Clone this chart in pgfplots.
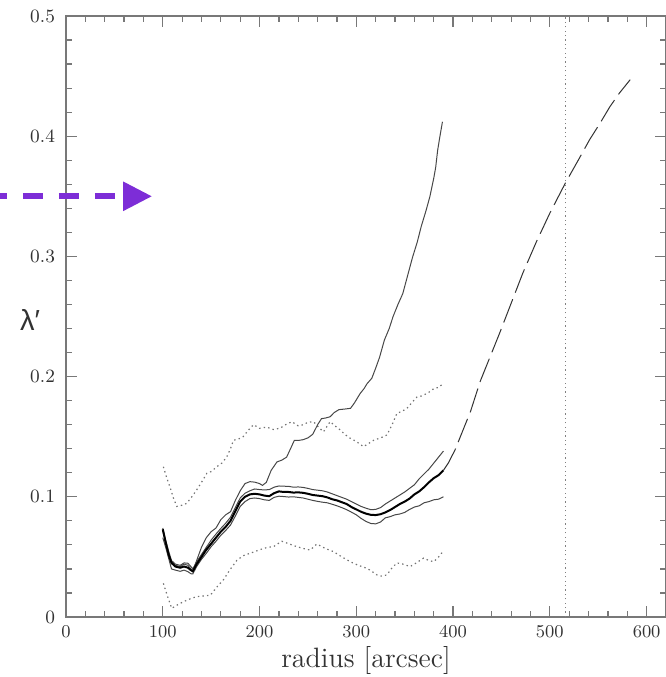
\documentclass[border=0pt]{standalone}
\usepackage{fontspec}
\usepackage{pgfplots}
\pgfplotsset{compat=1.18}
\usepackage{pgfplotstable}
\usetikzlibrary{arrows.meta}
\newfontfamily\lamfont{Liberation Sans}
\definecolor{arrowpurple}{RGB}{125,45,215}
\definecolor{axisgray}{RGB}{120,120,120}
\definecolor{labelgray}{RGB}{50,50,50}

\pgfplotstableread{
x y
100 0.073
103 0.062
106 0.052
109 0.045
113 0.042
118 0.041
122 0.042
126 0.041
129 0.039
131 0.038
135 0.044
140 0.050
145 0.056
150 0.061
155 0.066
160 0.071
165 0.075
170 0.080
175 0.088
180 0.096
185 0.100
190 0.102
195 0.1025
200 0.102
205 0.101
210 0.1005
215 0.103
220 0.1045
225 0.104
230 0.104
235 0.1035
240 0.1037
245 0.1033
250 0.1025
255 0.1015
260 0.101
265 0.1005
270 0.0995
275 0.098
280 0.097
285 0.0955
290 0.094
295 0.0915
300 0.0895
305 0.0875
310 0.0860
315 0.0850
320 0.0848
325 0.0855
330 0.0870
335 0.0890
340 0.0915
345 0.094
350 0.096
355 0.0985
360 0.102
365 0.1045
370 0.108
375 0.112
380 0.1155
385 0.118
390 0.122
}\central

\pgfplotstableread{
x y
100 0.074
103 0.064
106 0.055
109 0.047
113 0.044
118 0.043
122 0.045
126 0.0447
129 0.042
131 0.040
135 0.046
140 0.052
145 0.058
150 0.064
155 0.069
160 0.0737
165 0.078
170 0.083
175 0.091
180 0.099
185 0.103
190 0.105
195 0.1065
200 0.106
205 0.1057
210 0.106
215 0.108
220 0.109
225 0.1088
230 0.1087
235 0.108
240 0.1082
245 0.1078
250 0.107
255 0.106
260 0.1055
265 0.105
270 0.104
275 0.1025
280 0.101
285 0.0995
290 0.098
295 0.096
300 0.094
305 0.092
310 0.0905
315 0.0893
320 0.0895
325 0.091
330 0.094
335 0.0965
340 0.099
345 0.1015
350 0.104
355 0.107
360 0.110
365 0.115
370 0.119
375 0.123
380 0.128
385 0.133
390 0.138
}\upperenv

\pgfplotstableread{
x y
100 0.066
103 0.058
106 0.049
109 0.040
113 0.039
118 0.038
122 0.039
126 0.0377
129 0.036
131 0.0358
135 0.042
140 0.048
145 0.053
150 0.0585
155 0.063
160 0.068
165 0.072
170 0.0765
175 0.084
180 0.092
185 0.096
190 0.0985
195 0.099
200 0.0985
205 0.0975
210 0.097
215 0.0995
220 0.1005
225 0.1002
230 0.0998
235 0.1
240 0.0995
245 0.099
250 0.098
255 0.097
260 0.0962
265 0.0955
270 0.095
275 0.0938
280 0.0925
285 0.091
290 0.0893
295 0.0872
300 0.085
305 0.082
310 0.0795
315 0.0778
320 0.0775
325 0.079
330 0.0825
335 0.0835
340 0.085
345 0.0857
350 0.087
355 0.0895
360 0.0915
365 0.0925
370 0.095
375 0.096
380 0.0975
385 0.098
390 0.100
}\lowerenv

\pgfplotstableread{
x y
100 0.072
103 0.062
106 0.053
109 0.046
113 0.043
118 0.042
122 0.044
126 0.043
129 0.040
131 0.038
135 0.047
140 0.058
145 0.066
150 0.071
155 0.074
160 0.081
165 0.085
170 0.0876
175 0.097
180 0.105
185 0.111
190 0.1126
195 0.1122
200 0.111
203 0.1095
207 0.112
212 0.122
218 0.129
223 0.1305
228 0.133
232 0.140
236 0.147
241 0.147
245 0.1475
250 0.149
255 0.152
260 0.160
264 0.165
268 0.1655
273 0.1666
277 0.170
282 0.1725
288 0.173
294 0.1736
298 0.178
304 0.186
308 0.190
311 0.194
316 0.1986
320 0.207
324 0.216
329 0.2304
334 0.240
338 0.250
343 0.260
348 0.269
353 0.284
358 0.299
363 0.312
367 0.3247
372 0.338
376 0.3497
380 0.365
382 0.374
384 0.388
386 0.398
389 0.412
}\steep

\pgfplotstableread{
x y
390 0.122
395 0.128
402 0.139
410 0.155
418 0.171
428 0.196
438 0.216
448 0.236
460 0.261
472 0.286
486 0.312
500 0.336
516 0.361
530 0.381
541 0.397
552 0.411
562 0.4245
572 0.436
578 0.442
583 0.447
}\extrap

\pgfplotstableread{
x y
100.6 0.125
104 0.116
107.5 0.108
111 0.099
114.5 0.092
120 0.093
124.8 0.0946
130 0.100
135 0.1057
140 0.112
145.5 0.1195
150 0.121
155.8 0.125
161 0.128
166 0.133
170 0.140
173 0.147
178 0.148
183 0.150
188 0.155
193.7 0.160
200 0.157
207.5 0.158
214 0.156
221 0.157
227 0.160
233.4 0.1625
240 0.159
245.4 0.160
250 0.162
255.7 0.1625
261 0.158
266 0.154
270 0.159
273 0.1625
278 0.159
283.4 0.1556
288 0.152
293.7 0.1487
300 0.146
307.4 0.1417
312 0.144
317.8 0.147
325 0.149
331.6 0.1514
337 0.160
342 0.1695
347 0.171
352.3 0.1736
357 0.178
362.7 0.183
368 0.184
373 0.186
377 0.188
380 0.190
385 0.191
390 0.1944
}\dotup

\pgfplotstableread{
x y
100.6 0.028
105 0.017
109.3 0.0072
115 0.010
121.3 0.0127
128 0.015
135 0.017
142 0.0175
149 0.018
156 0.025
162.7 0.031
170 0.040
176.5 0.047
183 0.051
190.3 0.053
197 0.055
204 0.057
209 0.058
214.4 0.0585
219 0.061
223 0.063
230 0.061
238.6 0.0585
245 0.057
252.3 0.0557
259.2 0.0607
268 0.057
276.4 0.0544
285 0.050
293.7 0.046
302 0.043
311 0.0405
316 0.038
321.3 0.035
326 0.034
331.6 0.035
337 0.041
342 0.045
348 0.044
355.7 0.042
362 0.045
369.5 0.049
375 0.047
380 0.046
385 0.050
388.5 0.0535
}\dotlow

\begin{document}
\begin{tikzpicture}
\begin{axis}[
  scale only axis,
  width=300pt, height=300.5pt,
  xmin=0, xmax=620, ymin=0, ymax=0.5,
  clip=false,
  axis line style={axisgray, line width=0.8pt},
  xtick={0,100,...,600},
  ytick={0,0.1,...,0.5},
  yticklabels={0,0.1,0.2,0.3,0.4,0.5},
  minor x tick num=4,
  minor y tick num=4,
  tick align=inside,
  tick pos=both,
  major tick length=5.5pt,
  minor tick length=3pt,
  every tick/.style={axisgray, line width=0.6pt},
  tick label style={font=\fontsize{9.4}{11}\selectfont, text=labelgray},
  yticklabel style={xshift=-2pt},
  xticklabel style={yshift=-1pt},
  xlabel={radius [arcsec]},
  ylabel={{\lamfont λ′}},
  every axis x label/.style={at={(axis description cs:0.5,0)}, anchor=center, yshift=-21.5pt, font=\fontsize{14}{16}\selectfont, text=labelgray},
  every axis y label/.style={at={(axis description cs:-0.06,0.494)}, anchor=center, font=\fontsize{14.5}{16}\selectfont, text=labelgray},
]
\coordinate (ll) at (rel axis cs:0,0);
\coordinate (ur) at (rel axis cs:1,1);

% vertical dotted line
\addplot[gray, line width=0.5pt, dash pattern=on 0.6pt off 1.6pt] coordinates {(516,0) (516,0.5)};

% dotted bounds
\addplot[gray!90!black, line width=0.6pt, dash pattern=on 0.7pt off 1.6pt] table[x=x,y=y] {\dotup};
\addplot[gray!90!black, line width=0.6pt, dash pattern=on 0.7pt off 1.6pt] table[x=x,y=y] {\dotlow};

% thin envelopes
\addplot[black!72, line width=0.5pt] table[x=x,y=y] {\upperenv};
\addplot[black!72, line width=0.5pt] table[x=x,y=y] {\lowerenv};
\addplot[black!72, line width=0.5pt] table[x=x,y=y] {\steep};

% central
\addplot[black, line width=1pt] table[x=x,y=y] {\central};

% dashed extrapolation
\addplot[black!80, line width=0.5pt, dash pattern=on 12.5pt off 3.5pt] table[x=x,y=y] {\extrap};

% purple arrow annotation
\draw[arrowpurple, line width=3pt, dash pattern=on 10pt off 8pt, dash phase=6.5pt,
      -{Triangle[length=14.5pt,width=14pt]}]
  (axis cs:-68.3,0.35) -- (axis cs:88.9,0.35);
\end{axis}
\pgfresetboundingbox
\path ([xshift=-33pt,yshift=-30pt]ll) rectangle ([yshift=8pt]ur);
\end{tikzpicture}
\end{document}
